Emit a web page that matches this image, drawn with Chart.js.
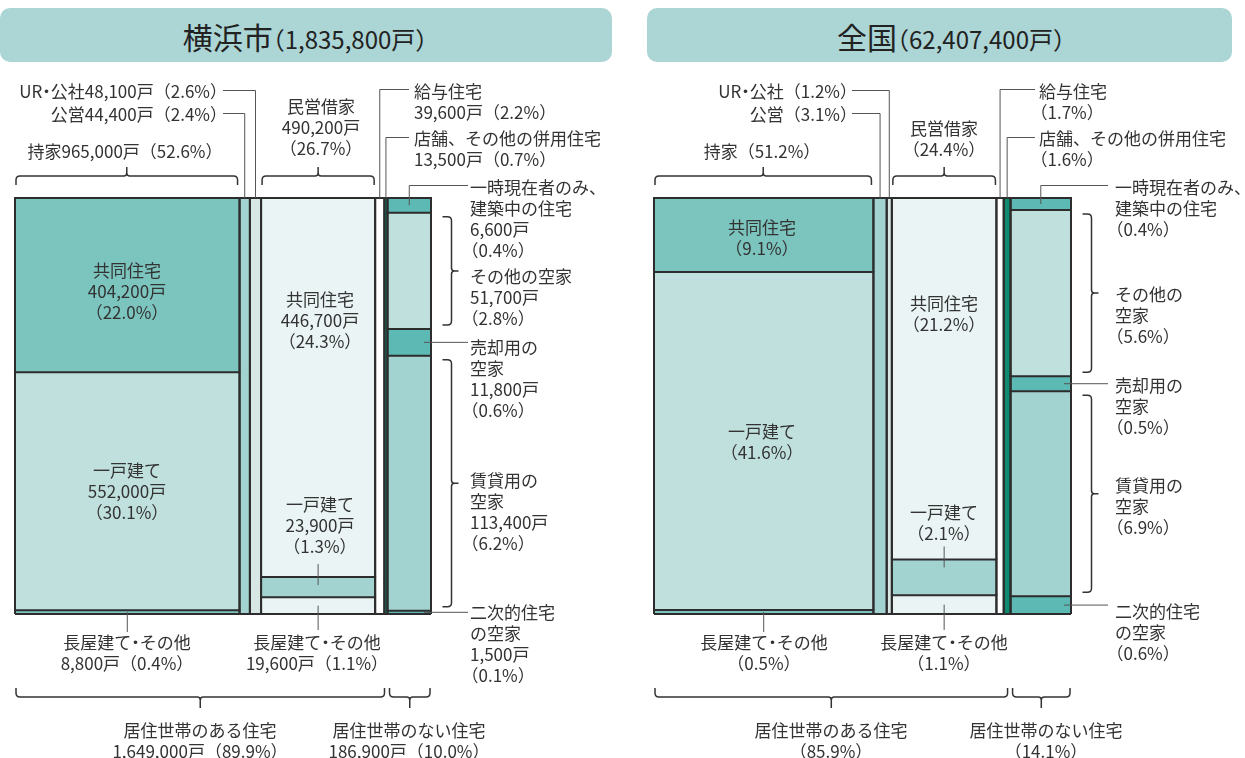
<!DOCTYPE html>
<html>
<head>
<meta charset="utf-8">
<script src="https://cdn.jsdelivr.net/npm/chart.js@4.4.1/dist/chart.umd.min.js"></script>
<style>
html,body{margin:0;padding:0;background:#fff;}
#root{position:relative;width:1245px;height:758px;overflow:hidden;font-family:"Noto Sans CJK JP","Noto Sans",sans-serif;color:#333;}
.hdr{position:absolute;top:8px;height:54px;background:#acd5d5;border-radius:10px;}
.ttl{position:absolute;top:8px;height:54px;line-height:56px;white-space:nowrap;transform:translateX(-50%);color:#222;}
.ttl .big{font-size:30px;}
.ttl .sm{font-size:24px;font-feature-settings:"halt";}
canvas{position:absolute;top:0;}
.lb{position:absolute;font-size:17px;line-height:21px;white-space:nowrap;}
.lb.c{transform:translateX(-50%);text-align:center;}
.lb.r{transform:translateX(-100%);text-align:right;}
.h{font-feature-settings:"halt";}
</style>
</head>
<body>
<div id="root">
  <div class="hdr" style="left:0;width:612px;"></div>
  <div class="hdr" style="left:647px;width:585px;"></div>
  <div class="ttl" style="left:305px;"><span class="big">横浜市</span><span class="sm">（1,835,800戸）</span></div>
  <div class="ttl" style="left:951px;"><span class="big">全国</span><span class="sm">（62,407,400戸）</span></div>
  <canvas id="cYokohama" width="622" height="758" style="left:0;width:622px;height:758px;"></canvas>
  <canvas id="cNational" width="605" height="758" style="left:640px;width:605px;height:758px;"></canvas>
</div>
<script>
// ---------------- data ----------------
const columnLabels = ['持家', '公営', 'UR・公社', '民営借家', '給与住宅', '店舗、その他の併用住宅', '居住世帯のない住宅'];
const housingTypeLabels = ['共同住宅', '一戸建て', '長屋建て・その他'];
const vacantTypeLabels = ['一時現在者のみ、建築中の住宅', 'その他の空家', '売却用の空家', '賃貸用の空家', '二次的住宅の空家'];

// 横浜市 (戸)
const yokohamaColumnTotals = [965000, 44400, 48100, 490200, 39600, 13500, 186900];
const yokohamaOwned = [404200, 552000, 8800];
const yokohamaPrivateRent = [446700, 23900, 19600];
const yokohamaVacant = [6600, 51700, 11800, 113400, 1500];

// 全国 (%)
const nationalColumnPct = [51.2, 3.1, 1.2, 24.4, 1.7, 1.6, 14.1];
const nationalOwned = [9.1, 41.6, 0.5];
const nationalPrivateRent = [21.2, 2.1, 1.1];
const nationalVacant = [0.4, 5.6, 0.5, 6.9, 0.6];

// ---------------- styles ----------------
const colorsOwned = ['#7cc4be', '#c0e0de', '#7cc4be'];
const colorPublic = '#a3d3d0';
const colorUR = '#d8e7e4';
const colorsPrivateRent = ['#eaf4f5', '#a3d3d0', '#eaf4f5'];
const colorIssued = '#ffffff';
const colorShop = '#0d8a70';
const colorsVacant = ['#5cb9b3', '#c0e0de', '#5cb9b3', '#a3d3d0', '#5cb9b3'];
const panelColors = [colorsOwned, [colorPublic], [colorUR], colorsPrivateRent, [colorIssued], [colorShop], colorsVacant];
const EDGE = '#2d2d2d';

// ---------------- labels (text) ----------------
const labelsYokohama = [
  [227, 90, 'r', 'UR・公社48,100戸（2.6%）'],
  [227, 113, 'r', '公営44,400戸（2.4%）'],
  [125, 150, 'c', '持家965,000戸（52.6%）'],
  [321, 105, 'c', '民営借家|490,200戸|（26.7%）'],
  [414, 90, 'l', '給与住宅|39,600戸（2.2%）'],
  [414, 137, 'l', '店舗、その他の併用住宅|13,500戸（0.7%）'],
  [470, 186, 'l', '一時現在者のみ、|建築中の住宅|6,600戸|（0.4%）'],
  [470, 275, 'l', 'その他の空家|51,700戸|（2.8%）'],
  [470, 346, 'l', '売却用の|空家|11,800戸|（0.6%）'],
  [470, 479, 'l', '賃貸用の|空家|113,400戸|（6.2%）'],
  [470, 611, 'l', '二次的住宅|の空家|1,500戸|（0.1%）'],
  [127, 269, 'c', '共同住宅|404,200戸|（22.0%）'],
  [127, 469, 'c', '一戸建て|552,000戸|（30.1%）'],
  [320, 298, 'c', '共同住宅|446,700戸|（24.3%）'],
  [320, 503, 'c', '一戸建て|23,900戸|（1.3%）'],
  [127, 641, 'c', '長屋建て・その他|8,800戸（0.4%）'],
  [317, 641, 'c', '長屋建て・その他|19,600戸（1.1%）'],
  [200, 729, 'c', '居住世帯のある住宅|1,649,000戸（89.9%）'],
  [409, 729, 'c', '居住世帯のない住宅|186,900戸（10.0%）']
];
const labelsNational = [
  [857, 90, 'r', 'UR・公社（1.2%）'],
  [857, 113, 'r', '公営（3.1%）'],
  [762, 150, 'c', '持家（51.2%）'],
  [944, 127, 'c', '民営借家|（24.4%）'],
  [1039, 90, 'l', '給与住宅|（1.7%）'],
  [1039, 137, 'l', '店舗、その他の併用住宅|（1.6%）'],
  [1115, 186, 'l', '一時現在者のみ、|建築中の住宅|（0.4%）'],
  [1115, 293, 'l', 'その他の|空家|（5.6%）'],
  [1115, 384, 'l', '売却用の|空家|（0.5%）'],
  [1115, 484, 'l', '賃貸用の|空家|（6.9%）'],
  [1115, 610, 'l', '二次的住宅|の空家|（0.6%）'],
  [762, 226, 'c', '共同住宅|（9.1%）'],
  [762, 430, 'c', '一戸建て|（41.6%）'],
  [944, 302, 'c', '共同住宅|（21.2%）'],
  [944, 511, 'c', '一戸建て|（2.1%）'],
  [764, 641, 'c', '長屋建て・その他|（0.5%）'],
  [944, 641, 'c', '長屋建て・その他|（1.1%）'],
  [831, 729, 'c', '居住世帯のある住宅|（85.9%）'],
  [1046, 729, 'c', '居住世帯のない住宅|（14.1%）']
];

function addLabels(list) {
  const root = document.getElementById('root');
  list.forEach(([x, y, al, txt]) => {
    const d = document.createElement('div');
    d.className = 'lb' + (al === 'c' ? ' c' : al === 'r' ? ' r' : '');
    d.style.left = x + 'px';
    d.style.top = (y - 10.5) + 'px';
    d.innerHTML = txt.split('|').map(line => {
      let s = line.split('・').join('<span class="h">・</span>');
      if (al === 'l' && line.charAt(0) === '（') s = '<span class="h">（</span>' + s.slice(1);
      return s;
    }).join('<br>');
    root.appendChild(d);
  });
}
addLabels(labelsYokohama);
addLabels(labelsNational);

// ---------------- chart ----------------
function buildPanel(canvasId, widths, segValues, pad, P) {
  const datasets = [];
  const geo = [];
  let x = 0;
  widths.forEach((w, i) => {
    const vals = segValues[i];
    const sum = vals.reduce((a, b) => a + b, 0);
    let y = 1;
    const segs = [];
    vals.forEach((v, j) => {
      const y1 = y;
      const y0 = Math.max(0, y - v / sum);
      datasets.push({
        label: columnLabels[i] + (vals.length > 1 ? '・' + (i === 6 ? vacantTypeLabels[j] : housingTypeLabels[j]) : ''),
        data: [{x: x, y: y0}, {x: x, y: y1}, {x: x + w, y: y1}, {x: x + w, y: y0}],
        fill: {value: y0},
        backgroundColor: panelColors[i][j],
        borderColor: EDGE,
        borderWidth: 2,
        pointRadius: 0,
        tension: 0,
        clip: false
      });
      segs.push([y0, y1]);
      y = y0;
    });
    geo.push({x0: x, x1: x + w, segs: segs});
    x += w;
  });
  const total = x;
  datasets.push({
    label: 'base',
    data: [{x: 0, y: 0}, {x: total, y: 0}],
    fill: false, borderColor: EDGE, borderWidth: 2, pointRadius: 0, clip: false
  });

  const annot = {
    id: 'annot',
    afterDraw(chart) {
      const ctx = chart.ctx;
      const X = v => chart.scales.x.getPixelForValue(v);
      const Y = v => chart.scales.y.getPixelForValue(v);
      const area = chart.chartArea;
      const R = area.right;
      const cx = i => (X(geo[i].x0) + X(geo[i].x1)) / 2;
      const sMid = (i, j) => (Y(geo[i].segs[j][0]) + Y(geo[i].segs[j][1])) / 2;
      const sTop = (i, j) => Y(geo[i].segs[j][1]);
      const sBot = (i, j) => Y(geo[i].segs[j][0]);
      const poly = pts => { ctx.beginPath(); pts.forEach((p, k) => k ? ctx.lineTo(p[0], p[1]) : ctx.moveTo(p[0], p[1])); ctx.stroke(); };
      ctx.save();
      ctx.strokeStyle = '#555'; ctx.lineWidth = 1;
      poly([[P.leftTextX, 113.5], [cx(1), 113.5], [cx(1), area.top]]);
      poly([[P.leftTextX, 90.5], [cx(2), 90.5], [cx(2), area.top]]);
      poly([[P.rightTextX, 89.5], [cx(4), 89.5], [cx(4), area.top]]);
      poly([[P.rightTextX, 137.5], [cx(5), 137.5], [cx(5), area.top]]);
      poly([[cx(6), sMid(6, 0)], [cx(6), 185.5], [R + 37, 185.5]]);
      poly([[R - 7, sMid(6, 2)], [R + 37, sMid(6, 2)]]);
      poly([[R - 7, sMid(6, 4)], [R + 37, sMid(6, 4)]]);
      poly([[cx(3), sTop(3, 1) - 13], [cx(3), sTop(3, 1) + 8]]);
      poly([[cx(3), sMid(3, 2)], [cx(3), 630]]);
      poly([[cx(0), sMid(0, 2)], [cx(0), 632]]);

      ctx.strokeStyle = '#333'; ctx.lineWidth = 1.5;
      const hBrace = (x0, x1, yEnd, yH, yTip) => {
        const s = yEnd > yH ? 1 : -1, r = 4, xc = (x0 + x1) / 2, t = yTip > yH ? 1 : -1;
        ctx.beginPath();
        ctx.moveTo(x0, yEnd);
        ctx.lineTo(x0, yH + s * r);
        ctx.quadraticCurveTo(x0, yH, x0 + r, yH);
        ctx.lineTo(xc - 3, yH);
        ctx.quadraticCurveTo(xc, yH, xc, yH + t * 3);
        ctx.lineTo(xc, yTip);
        ctx.moveTo(xc, yH + t * 3);
        ctx.quadraticCurveTo(xc, yH, xc + 3, yH);
        ctx.lineTo(x1 - r, yH);
        ctx.quadraticCurveTo(x1, yH, x1, yH + s * r);
        ctx.lineTo(x1, yEnd);
        ctx.stroke();
      };
      const vBracket = (bx, yt, yb) => {
        const r = 4, yc = (yt + yb) / 2;
        ctx.beginPath();
        ctx.moveTo(bx - 9, yt);
        ctx.lineTo(bx - r, yt);
        ctx.quadraticCurveTo(bx, yt, bx, yt + r);
        ctx.lineTo(bx, yc - 3);
        ctx.quadraticCurveTo(bx, yc, bx + 3, yc);
        ctx.lineTo(bx + 7, yc);
        ctx.moveTo(bx + 3, yc);
        ctx.quadraticCurveTo(bx, yc, bx, yc + 3);
        ctx.lineTo(bx, yb - r);
        ctx.quadraticCurveTo(bx, yb, bx - r, yb);
        ctx.lineTo(bx - 9, yb);
        ctx.stroke();
      };
      hBrace(X(geo[0].x0) + 1, X(geo[0].x1) - 2, 185, 176, 167);
      hBrace(X(geo[3].x0) + 1, X(geo[3].x1) - 1, 185, 176, 167);
      hBrace(X(geo[0].x0) + 1, X(geo[5].x1) - 3, 688, 697, 708);
      hBrace(X(geo[6].x0) + 2, X(geo[6].x1) - 1, 688, 697, 708);
      vBracket(R + 20.5, sTop(6, 1) + 4, sBot(6, 1) - 4);
      vBracket(R + 20.5, sTop(6, 3) + 4, sBot(6, 3) - 4);
      ctx.restore();
    }
  };

  return new Chart(document.getElementById(canvasId), {
    type: 'line',
    data: {datasets: datasets},
    options: {
      responsive: false,
      animation: false,
      events: [],
      layout: {padding: pad},
      plugins: {
        legend: {display: false},
        tooltip: {enabled: false},
        filler: {propagate: false, drawTime: 'beforeDatasetsDraw'}
      },
      scales: {
        x: {type: 'linear', min: 0, max: total, display: false},
        y: {type: 'linear', min: 0, max: 1, display: false}
      }
    },
    plugins: [annot]
  });
}

const segYokohama = [yokohamaOwned, [yokohamaColumnTotals[1]], [yokohamaColumnTotals[2]], yokohamaPrivateRent,
  [yokohamaColumnTotals[4]], [yokohamaColumnTotals[5]], yokohamaVacant];
const segNational = [nationalOwned, [nationalColumnPct[1]], [nationalColumnPct[2]], nationalPrivateRent,
  [nationalColumnPct[4]], [nationalColumnPct[5]], nationalVacant];

buildPanel('cYokohama', yokohamaColumnTotals, segYokohama,
  {left: 15, top: 198, right: 191, bottom: 144}, {leftTextX: 223, rightTextX: 409});
buildPanel('cNational', nationalColumnPct, segNational,
  {left: 14, top: 198, right: 174, bottom: 144}, {leftTextX: 212, rightTextX: 395});
</script>
</body>
</html>
